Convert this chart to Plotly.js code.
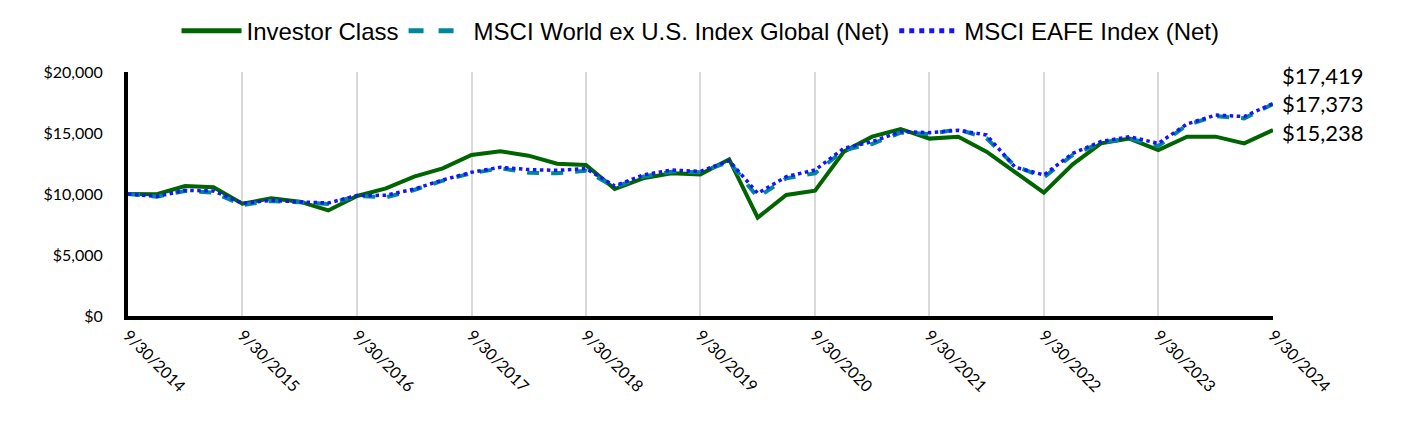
<!DOCTYPE html>
<html>
<head>
<meta charset="utf-8">
<script src="https://cdn.plot.ly/plotly-3.0.1.min.js"></script>
<style>html,body{margin:0;padding:0;background:#fff;} #chart{width:1428px;height:444px;}</style>
</head>
<body>
<div id="chart"></div>
<script>
const dates = [
  "2014-09-30","2014-12-31","2015-03-31","2015-06-30",
  "2015-09-30","2015-12-31","2016-03-31","2016-06-30",
  "2016-09-30","2016-12-31","2017-03-31","2017-06-30",
  "2017-09-30","2017-12-31","2018-03-31","2018-06-30",
  "2018-09-30","2018-12-31","2019-03-31","2019-06-30",
  "2019-09-30","2019-12-31","2020-03-31","2020-06-30",
  "2020-09-30","2020-12-31","2021-03-31","2021-06-30",
  "2021-09-30","2021-12-31","2022-03-31","2022-06-30",
  "2022-09-30","2022-12-31","2023-03-31","2023-06-30",
  "2023-09-30","2023-12-31","2024-03-31","2024-06-30",
  "2024-09-30"
];
const investorClass = [
  10000, 9980, 10650, 10550,
  9200, 9650, 9370, 8650,
  9840, 10460, 11420, 12100,
  13200, 13500, 13140, 12480,
  12380, 10410, 11280, 11700,
  11610, 12840, 8060, 9920,
  10270, 13470, 14700, 15330,
  14540, 14700, 13470, 11780,
  10110, 12430, 14150, 14540,
  13600, 14700, 14700, 14150,
  15238
];
const msciWorldExUS = [
  10000, 9780, 10250, 10110,
  9100, 9430, 9320, 9180,
  9840, 9730, 10330, 11090,
  11700, 12100, 11750, 11700,
  11910, 10550, 11420, 11830,
  11780, 12650, 9730, 11280,
  11700, 13600, 14100, 15030,
  14920, 15300, 14560, 12300,
  11370, 13200, 14210, 14560,
  13930, 15660, 16390, 16200,
  17373
];
const msciEAFE = [
  10000, 9800, 10300, 10250,
  9240, 9480, 9350, 9260,
  9880, 9890, 10400, 11150,
  11780, 12190, 12000, 11940,
  12080, 10660, 11560, 11970,
  11850, 12730, 10060, 11420,
  11970, 13750, 14290, 15110,
  15030, 15220, 14840, 12200,
  11560, 13330, 14300, 14700,
  14150, 15740, 16470, 16350,
  17419
];
const seriesNames = ["Investor Class", "MSCI World ex U.S. Index Global (Net)", "MSCI EAFE Index (Net)"];
const xTickVals = ["2014-09-30","2015-09-30","2016-09-30","2017-09-30","2018-09-30","2019-09-30","2020-09-30","2021-09-30","2022-09-30","2023-09-30","2024-09-30"];
const xTickText = ["9/30/2014","9/30/2015","9/30/2016","9/30/2017","9/30/2018","9/30/2019","9/30/2020","9/30/2021","9/30/2022","9/30/2023","9/30/2024"];
const yTickVals = [0, 5000, 10000, 15000, 20000];
const yTickText = ["$0", "$5,000", "$10,000", "$15,000", "$20,000"];

const tickFont = "Lato, 'DejaVu Sans', sans-serif";
const last = dates.length - 1;
const fmt = v => "$" + v.toLocaleString("en-US");

const traces = [
  {x: dates, y: investorClass, name: seriesNames[0], type: "scatter", mode: "lines",
   line: {color: "#006400", width: 4}},
  {x: dates, y: msciWorldExUS, name: seriesNames[1], type: "scatter", mode: "lines",
   line: {color: "#00879B", width: 4, dash: "dash"}},
  {x: dates, y: msciEAFE, name: seriesNames[2], type: "scatter", mode: "lines",
   line: {color: "#1414FF", width: 3.5, dash: "dot"}}
];

const endLabels = [
  {v: msciEAFE[last], shift: 28},
  {v: msciWorldExUS[last], shift: 1},
  {v: investorClass[last], shift: -2}
];

const layout = {
  width: 1428, height: 444,
  margin: {l: 128, r: 155, t: 72, b: 128, autoexpand: false},
  paper_bgcolor: "#fff", plot_bgcolor: "#fff",
  showlegend: true,
  legend: {orientation: "h", x: 0.5, xanchor: "center", xref: "paper",
           y: 0.93, yref: "container", yanchor: "middle", itemwidth: 60, itemsizing: "constant",
           font: {family: "'Liberation Sans', Arial, sans-serif", size: 24, color: "#000"}},
  xaxis: {type: "date", range: [dates[0], dates[last]], tickvals: xTickVals, ticktext: xTickText,
          tickangle: 45, showgrid: true, gridcolor: "#d9d9d9", gridwidth: 2,
          showline: true, linecolor: "#000", linewidth: 4, ticks: "", zeroline: false,
          tickfont: {family: tickFont, size: 16, color: "#000"}},
  yaxis: {range: [0, 20000], tickvals: yTickVals, ticktext: yTickText, showgrid: false,
          showline: true, linecolor: "#000", linewidth: 4, ticks: "", zeroline: false,
          ticklabelstandoff: 18,
          tickfont: {family: tickFont, size: 16, color: "#000"}},
  annotations: endLabels.map(e => ({
    x: dates[last], y: e.v, xref: "x", yref: "y", text: fmt(e.v), showarrow: false,
    xanchor: "left", yanchor: "middle", xshift: 8, yshift: e.shift, borderpad: 0,
    font: {family: tickFont, size: 22, color: "#000"}
  }))
};

Plotly.newPlot("chart", traces, layout, {displayModeBar: false, staticPlot: true});
</script>
</body>
</html>
